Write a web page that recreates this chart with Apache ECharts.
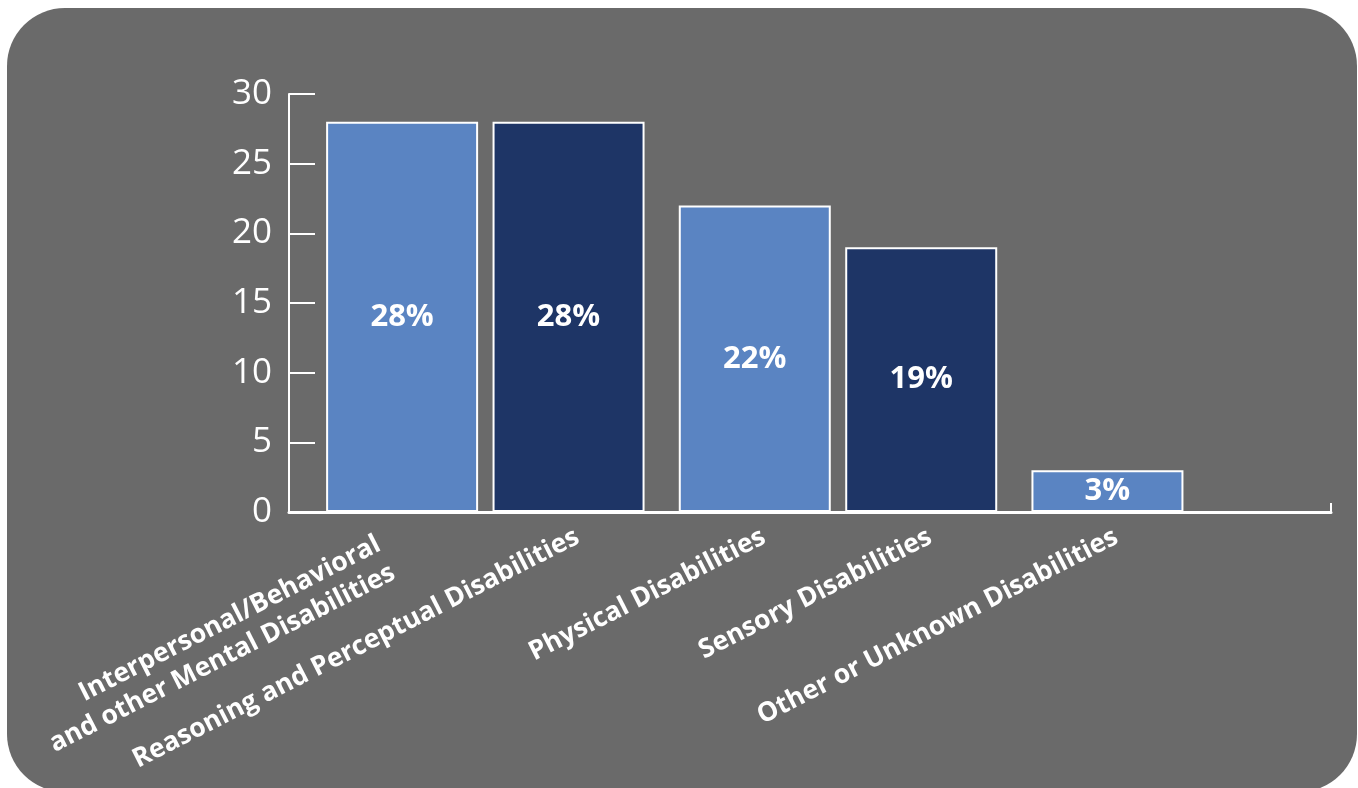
<!DOCTYPE html>
<html>
<head>
<meta charset="utf-8">
<script src="https://cdn.jsdelivr.net/npm/echarts@6/dist/echarts.min.js"></script>
<style>
  html, body { margin: 0; padding: 0; background: #fff; }
  #chart { width: 1358px; height: 788px; }
</style>
</head>
<body>
<div id="chart"></div>
<script>
// categories and values
const disabilities = [
  'Interpersonal/Behavioral\nand other Mental Disabilities',
  'Reasoning and Perceptual Disabilities',
  'Physical Disabilities',
  'Sensory Disabilities',
  'Other or Unknown Disabilities'
]
const shares = [28, 28, 22, 19, 3]
const yTicks = [0, 5, 10, 15, 20, 25, 30]

// bars come in pairs (light, dark), so split into two series over 3 slots
const slots = ['a', 'b', 'c']
function pick(arr, k) {
  return slots.map((s, i) => (arr[i * 2 + k] === undefined ? '-' : arr[i * 2 + k]))
}

const font = 'Open Sans'
const light = '#5a84c2'
const dark = '#1e3566'

function valueSeries(k, color) {
  return {
    type: 'bar',
    xAxisIndex: 1,
    yAxisIndex: 1,
    barWidth: 152,
    barGap: '9.5%',
    data: pick(shares, k),
    itemStyle: { color: color, borderColor: '#fff', borderWidth: 2 },
    label: {
      show: true,
      position: 'inside',
      formatter: '{c}%',
      color: '#fff',
      fontSize: 31,
      fontWeight: 'bold',
      fontFamily: font
    },
    silent: true
  }
}

// zero-height bars that only carry the rotated category names
function nameSeries(k) {
  const names = pick(disabilities, k)
  return {
    type: 'bar',
    xAxisIndex: 2,
    yAxisIndex: 1,
    barWidth: 152,
    barGap: '9.5%',
    data: names.map(n => {
      if (n === '-') return '-'
      // the two-line name sits further back along its slant
      if (n.indexOf('\n') >= 0) return { value: 0, label: { offset: [-22, 8] } }
      return 0
    }),
    itemStyle: { color: 'transparent' },
    label: {
      show: true,
      position: 'bottom',
      distance: 28,
      rotate: 27,
      align: 'right',
      verticalAlign: 'middle',
      offset: [10, 0],
      lineHeight: 32,
      formatter: p => names[p.dataIndex],
      color: '#fff',
      fontSize: 26.5,
      fontWeight: 'bold',
      fontFamily: font
    },
    silent: true
  }
}

let myChart = echarts.init(document.getElementById('chart'))
myChart.setOption({
  backgroundColor: '#fff',
  animation: false,
  graphic: [
    {
      type: 'rect',
      z: -10,
      shape: { x: 7, y: 8, width: 1350, height: 784, r: 58 },
      style: { fill: '#6a6a6a' }
    }
  ],
  grid: [
    { left: 289, top: 94, width: 1042, height: 418, outerBoundsMode: 'none' },
    { left: 309, top: 94, width: 1058, height: 418, outerBoundsMode: 'none' }
  ],
  xAxis: [
    {
      gridIndex: 0,
      type: 'value',
      min: 0,
      max: 1,
      interval: 1,
      axisLine: { show: true, lineStyle: { color: '#fff', width: 3 } },
      axisTick: { show: true, inside: true, length: 9, lineStyle: { color: '#fff', width: 2 } },
      axisLabel: { show: false },
      splitLine: { show: false }
    },
    { gridIndex: 1, type: 'category', data: slots, show: false },
    { gridIndex: 1, type: 'category', data: slots, show: false }
  ],
  yAxis: [
    {
      gridIndex: 0,
      type: 'value',
      min: yTicks[0],
      max: yTicks[yTicks.length - 1],
      interval: 5,
      axisLine: { show: true, lineStyle: { color: '#fff', width: 2 } },
      axisTick: { show: true, inside: true, length: 26, lineStyle: { color: '#fff', width: 2 } },
      axisLabel: { color: '#fff', fontSize: 35, fontFamily: font, margin: 17 },
      splitLine: { show: false }
    },
    {
      gridIndex: 1,
      type: 'value',
      min: yTicks[0],
      max: yTicks[yTicks.length - 1],
      show: false,
      splitLine: { show: false }
    }
  ],
  series: [
    valueSeries(0, light),
    valueSeries(1, dark),
    nameSeries(0),
    nameSeries(1)
  ]
})
</script>
</body>
</html>
